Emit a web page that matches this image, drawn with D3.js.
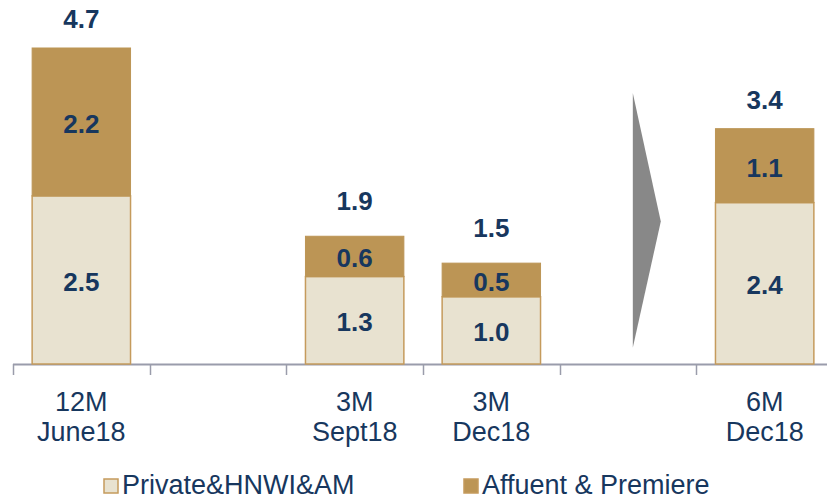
<!DOCTYPE html>
<html>
<head>
<meta charset="utf-8">
<script src="https://cdn.jsdelivr.net/npm/d3@7"></script>
<style>
    body { margin: 0; background: #fff; }
    svg { display: block; }
</style>
</head>
<body>
<div id="chart"></div>
<script>
// categories (empty ones are spacer slots on the axis)
const categories = ["12M|June18", "gap1", "3M|Sept18", "3M|Dec18", "gap2", "6M|Dec18"];
const private_hnwi = [2.5, null, 1.3, 1.0, null, 2.4];
const affluent = [2.2, null, 0.6, 0.5, null, 1.1];
const totals = [4.7, null, 1.9, 1.5, null, 3.4];
const series_names = ["Private&HNWI&AM", "Affuent & Premiere"];

const width = 827, height = 502;
const margin = {top: 48, right: -6, bottom: 138, left: 13};
const colors = {light: "#e8e2d0", dark: "#bc9555", edge: "#c59b5c", text: "#17375e"};
const font = "'Liberation Sans', Arial, sans-serif";

const svg = d3.select("#chart").append("svg")
    .attr("width", width)
    .attr("height", height);

const x = d3.scaleBand()
    .domain(categories)
    .range([margin.left, width - margin.right])
    .paddingInner(0.28)
    .paddingOuter(0.14);

// band step covers the axis tick spacing
const step = x.step();
const y = d3.scaleLinear()
    .domain([0, 4.7])
    .range([height - margin.bottom, margin.top]);

const rows = categories.map((c, i) => ({
    cat: c, a: private_hnwi[i], b: affluent[i], t: totals[i]
})).filter(d => d.a != null);

// axis line + ticks at band edges
const axis_y = y(0);
const axis_g = svg.append("g");
axis_g.append("line")
    .attr("x1", margin.left).attr("x2", width)
    .attr("y1", axis_y + 0.5).attr("y2", axis_y + 0.5)
    .attr("stroke", "#9a9cab").attr("stroke-width", 2);
categories.forEach(c => {
    const tx = Math.round(x(c) - x.paddingInner() * step / 2) + 0.5;
    axis_g.append("line")
        .attr("x1", tx).attr("x2", tx)
        .attr("y1", axis_y).attr("y2", axis_y + 11)
        .attr("stroke", "#9a9cab").attr("stroke-width", 1.5);
});

// arrow in the second spacer slot
const gx = x("gap2");
svg.append("path")
    .attr("d", d3.line()([
        [gx + 54, y(4.03)],
        [gx + 82, y(2.12)],
        [gx + 54, y(0.24)]
    ]) + "Z")
    .attr("fill", "#888888");

const bars = svg.selectAll("g.bar")
    .data(rows)
    .join("g")
    .classed("bar", true);

bars.append("rect")
    .attr("x", d => x(d.cat))
    .attr("width", x.bandwidth())
    .attr("y", d => y(d.a))
    .attr("height", d => y(0) - y(d.a))
    .attr("fill", colors.light)
    .attr("stroke", colors.edge)
    .attr("stroke-width", 1.5);

bars.append("rect")
    .attr("x", d => x(d.cat))
    .attr("width", x.bandwidth())
    .attr("y", d => y(d.a + d.b))
    .attr("height", d => y(d.a) - y(d.a + d.b))
    .attr("fill", colors.dark)
    .attr("stroke", colors.dark)
    .attr("stroke-width", 1);

bars.append("text")
    .attr("x", d => x(d.cat) + x.bandwidth() / 2)
    .attr("y", d => (y(0) + y(d.a)) / 2 + 11)
    .text(d => d.a.toFixed(1));

bars.append("text")
    .attr("x", d => x(d.cat) + x.bandwidth() / 2)
    .attr("y", d => (y(d.a) + y(d.a + d.b)) / 2 + 11)
    .text(d => d.b.toFixed(1));

// total labels: keep the tallest one inside the picture
bars.append("text")
    .attr("x", d => x(d.cat) + x.bandwidth() / 2)
    .attr("y", d => Math.max(y(d.t) - 26, 28))
    .text(d => d.t.toFixed(1));

bars.selectAll("text")
    .attr("text-anchor", "middle")
    .attr("font-family", font)
    .attr("font-weight", "bold")
    .attr("font-size", 26)
    .attr("fill", colors.text);

// category labels, two lines
const cat_labels = svg.selectAll("text.cat")
    .data(rows)
    .join("text")
    .classed("cat", true)
    .attr("text-anchor", "middle")
    .attr("font-family", font)
    .attr("font-size", 27)
    .attr("fill", colors.text)
    .attr("transform", d => "translate(" + (x(d.cat) + x.bandwidth() / 2) + "," + (axis_y + 47) + ")");

cat_labels.selectAll("tspan")
    .data(d => d.cat.split("|"))
    .join("tspan")
    .attr("x", 0)
    .attr("dy", (d, i) => i === 0 ? 0 : 30)
    .text(d => d);

// legend
const legend_items = [
    {name: series_names[0], fill: colors.light, lx: 104},
    {name: series_names[1], fill: colors.dark, lx: 464}
];
const legend = svg.selectAll("g.legend")
    .data(legend_items)
    .join("g")
    .classed("legend", true)
    .attr("transform", d => "translate(" + d.lx + ",479)");

legend.append("rect")
    .attr("width", 14).attr("height", 14)
    .attr("fill", d => d.fill)
    .attr("stroke", colors.edge)
    .attr("stroke-width", 1.5);

legend.append("text")
    .attr("x", 18)
    .attr("y", 15)
    .attr("font-family", font)
    .attr("font-size", 27)
    .attr("fill", colors.text)
    .text(d => d.name);
</script>
</body>
</html>
